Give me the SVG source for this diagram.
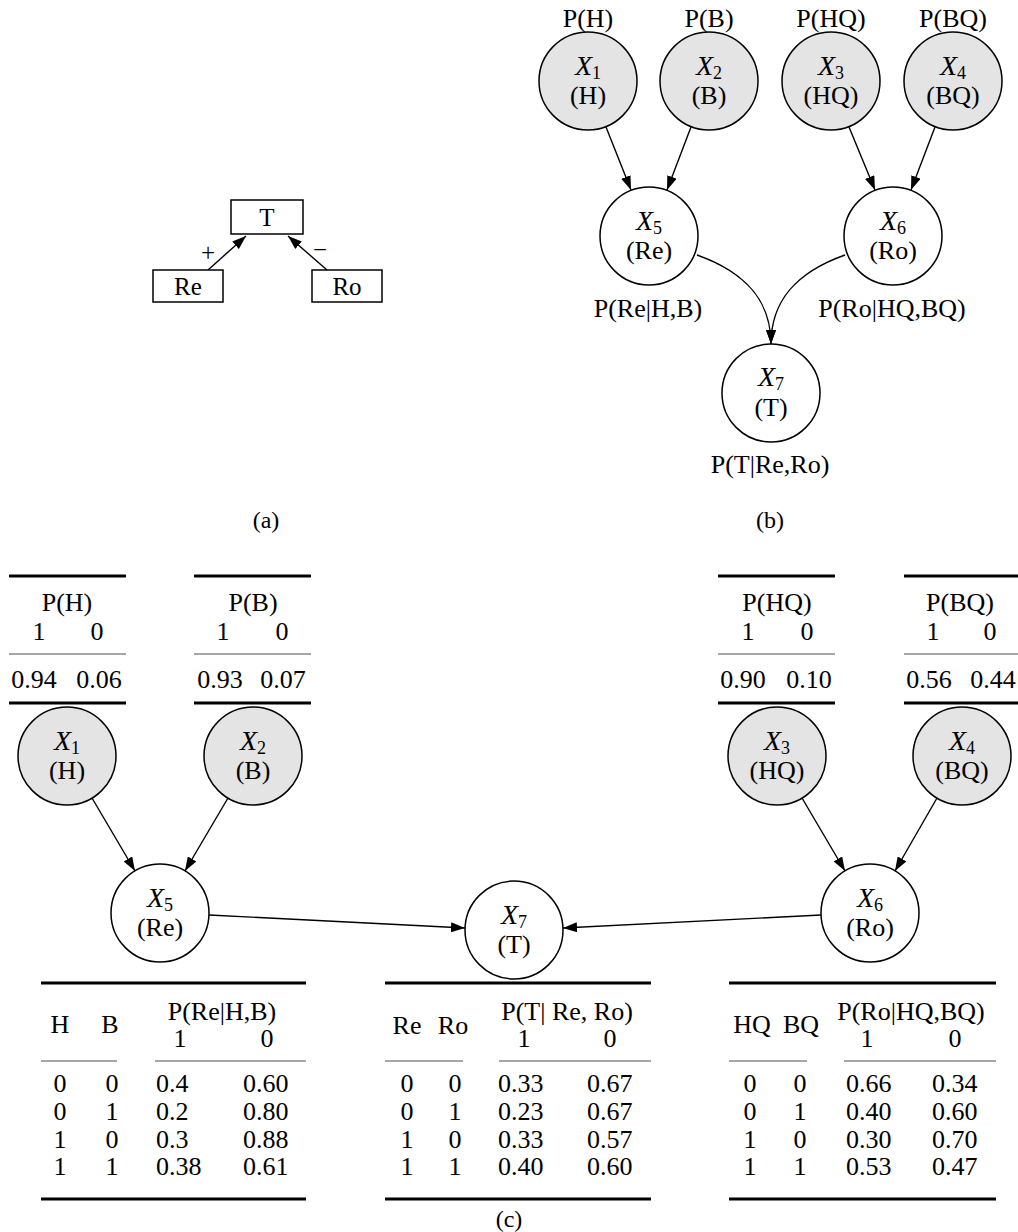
<svg xmlns="http://www.w3.org/2000/svg" width="1018" height="1232" viewBox="0 0 1018 1232">
<style>
text{font-family:"Liberation Serif","Times New Roman",serif;fill:#000}
.t{font-size:26px;text-anchor:middle}
.l{font-size:26px;text-anchor:start}
.a{font-size:25px;text-anchor:middle}
.nt{font-size:26px;text-anchor:middle}
.x{font-style:italic;font-size:28px}
.s{font-size:18px}
.cap{font-size:24px;text-anchor:middle}
.g{fill:#e4e4e4;stroke:#000;stroke-width:1.5}
.w{fill:#fff;stroke:#000;stroke-width:1.5}
.box{fill:#fff;stroke:#000;stroke-width:1.5}
.e{fill:none;stroke:#000;stroke-width:1.4}
.thick{stroke:#000;stroke-width:3}
.thin{stroke:#888;stroke-width:1.3}
</style>
<defs>
<marker id="ar" viewBox="0 0 14 10" refX="14" refY="5" markerWidth="14" markerHeight="10" markerUnits="userSpaceOnUse" orient="auto">
<path d="M0,0 L14,5 L0,10 Z" fill="#000"/>
</marker>
</defs>

<!-- (a) -->
<g id="a-T"><rect class="box" x="231" y="200" width="72" height="34"/><text class="a" x="267" y="226">T</text></g>
<g id="a-Re"><rect class="box" x="153" y="270" width="70" height="32"/><text class="a" x="188" y="295">Re</text></g>
<g id="a-Ro"><rect class="box" x="312" y="270" width="70" height="32"/><text class="a" x="347" y="295">Ro</text></g>
<g id="a-edges">
<line class="e" x1="208" y1="270" x2="246" y2="236" marker-end="url(#ar)"/>
<line class="e" x1="327" y1="270" x2="288" y2="236" marker-end="url(#ar)"/>
<text class="a" x="208" y="261">+</text>
<text class="a" x="320" y="258">−</text>
</g>
<text class="cap" x="266" y="528">(a)</text>

<!-- (b) -->
<g id="b-X1"><circle class="g" cx="588" cy="81" r="49"/><text class="nt" x="588" y="75"><tspan class="x">X</tspan><tspan class="s" dy="4">1</tspan></text><text class="nt" x="588" y="104">(H)</text><text class="t" x="588" y="27">P(H)</text></g>
<g id="b-X2"><circle class="g" cx="709" cy="81" r="49"/><text class="nt" x="709" y="75"><tspan class="x">X</tspan><tspan class="s" dy="4">2</tspan></text><text class="nt" x="709" y="104">(B)</text><text class="t" x="709" y="27">P(B)</text></g>
<g id="b-X3"><circle class="g" cx="831" cy="81" r="49"/><text class="nt" x="831" y="75"><tspan class="x">X</tspan><tspan class="s" dy="4">3</tspan></text><text class="nt" x="831" y="104">(HQ)</text><text class="t" x="831" y="27">P(HQ)</text></g>
<g id="b-X4"><circle class="g" cx="953" cy="81" r="49"/><text class="nt" x="953" y="75"><tspan class="x">X</tspan><tspan class="s" dy="4">4</tspan></text><text class="nt" x="953" y="104">(BQ)</text><text class="t" x="953" y="27">P(BQ)</text></g>
<g id="b-X5"><circle class="w" cx="649" cy="236" r="49"/><text class="nt" x="649" y="230"><tspan class="x">X</tspan><tspan class="s" dy="4">5</tspan></text><text class="nt" x="649" y="259">(Re)</text><text class="t" x="648" y="317">P(Re|H,B)</text></g>
<g id="b-X6"><circle class="w" cx="893" cy="236" r="49"/><text class="nt" x="893" y="230"><tspan class="x">X</tspan><tspan class="s" dy="4">6</tspan></text><text class="nt" x="893" y="259">(Ro)</text><text class="t" x="892" y="317">P(Ro|HQ,BQ)</text></g>
<g id="b-X7"><circle class="w" cx="771" cy="393" r="49"/><text class="nt" x="771" y="386"><tspan class="x">X</tspan><tspan class="s" dy="4">7</tspan></text><text class="nt" x="771" y="416">(T)</text><text class="t" x="770" y="473">P(T|Re,Ro)</text></g>
<g id="b-edges">
<line class="e" x1="606" y1="127" x2="631" y2="190" marker-end="url(#ar)"/>
<line class="e" x1="691" y1="127" x2="667" y2="190" marker-end="url(#ar)"/>
<line class="e" x1="849" y1="127" x2="875" y2="190" marker-end="url(#ar)"/>
<line class="e" x1="935" y1="127" x2="911" y2="190" marker-end="url(#ar)"/>
<path class="e" d="M697,255 C745,272 771,300 771,344" marker-end="url(#ar)"/>
<path class="e" d="M845,255 C797,272 771,300 771,344" marker-end="url(#ar)"/>
</g>
<text class="cap" x="770" y="528">(b)</text>

<!-- (c) prior tables -->
<g id="c-PH">
<line class="thick" x1="9" y1="576" x2="126" y2="576"/><line class="thin" x1="9" y1="654" x2="126" y2="654"/><line class="thick" x1="9" y1="703" x2="126" y2="703"/>
<text class="t" x="67" y="611">P(H)</text><text class="t" x="39" y="640">1</text><text class="t" x="97" y="640">0</text>
<text class="t" x="34" y="688">0.94</text><text class="t" x="99" y="688">0.06</text>
</g>
<g id="c-PB">
<line class="thick" x1="194" y1="576" x2="311" y2="576"/><line class="thin" x1="194" y1="654" x2="311" y2="654"/><line class="thick" x1="194" y1="703" x2="311" y2="703"/>
<text class="t" x="253" y="611">P(B)</text><text class="t" x="223" y="640">1</text><text class="t" x="282" y="640">0</text>
<text class="t" x="220" y="688">0.93</text><text class="t" x="283" y="688">0.07</text>
</g>
<g id="c-PHQ">
<line class="thick" x1="718" y1="576" x2="835" y2="576"/><line class="thin" x1="718" y1="654" x2="835" y2="654"/><line class="thick" x1="718" y1="703" x2="835" y2="703"/>
<text class="t" x="777" y="611">P(HQ)</text><text class="t" x="748" y="640">1</text><text class="t" x="807" y="640">0</text>
<text class="t" x="743" y="688">0.90</text><text class="t" x="809" y="688">0.10</text>
</g>
<g id="c-PBQ">
<line class="thick" x1="904" y1="576" x2="1018" y2="576"/><line class="thin" x1="904" y1="654" x2="1018" y2="654"/><line class="thick" x1="904" y1="703" x2="1018" y2="703"/>
<text class="t" x="960" y="611">P(BQ)</text><text class="t" x="933" y="640">1</text><text class="t" x="990" y="640">0</text>
<text class="t" x="929" y="688">0.56</text><text class="t" x="993" y="688">0.44</text>
</g>

<!-- (c) nodes -->
<g id="c-X1"><circle class="g" cx="67" cy="756" r="49"/><text class="nt" x="67" y="750"><tspan class="x">X</tspan><tspan class="s" dy="4">1</tspan></text><text class="nt" x="67" y="779">(H)</text></g>
<g id="c-X2"><circle class="g" cx="253" cy="756" r="49"/><text class="nt" x="253" y="750"><tspan class="x">X</tspan><tspan class="s" dy="4">2</tspan></text><text class="nt" x="253" y="779">(B)</text></g>
<g id="c-X3"><circle class="g" cx="777" cy="756" r="49"/><text class="nt" x="777" y="750"><tspan class="x">X</tspan><tspan class="s" dy="4">3</tspan></text><text class="nt" x="777" y="779">(HQ)</text></g>
<g id="c-X4"><circle class="g" cx="962" cy="756" r="49"/><text class="nt" x="962" y="750"><tspan class="x">X</tspan><tspan class="s" dy="4">4</tspan></text><text class="nt" x="962" y="779">(BQ)</text></g>
<g id="c-X5"><circle class="w" cx="160" cy="913" r="49"/><text class="nt" x="160" y="907"><tspan class="x">X</tspan><tspan class="s" dy="4">5</tspan></text><text class="nt" x="160" y="936">(Re)</text></g>
<g id="c-X6"><circle class="w" cx="870" cy="913" r="49"/><text class="nt" x="870" y="907"><tspan class="x">X</tspan><tspan class="s" dy="4">6</tspan></text><text class="nt" x="870" y="936">(Ro)</text></g>
<g id="c-X7"><circle class="w" cx="514" cy="930" r="49"/><text class="nt" x="514" y="924"><tspan class="x">X</tspan><tspan class="s" dy="4">7</tspan></text><text class="nt" x="514" y="953">(T)</text></g>
<g id="c-edges">
<line class="e" x1="92" y1="798" x2="135" y2="871" marker-end="url(#ar)"/>
<line class="e" x1="228" y1="798" x2="185" y2="871" marker-end="url(#ar)"/>
<line class="e" x1="802" y1="798" x2="845" y2="871" marker-end="url(#ar)"/>
<line class="e" x1="937" y1="798" x2="895" y2="871" marker-end="url(#ar)"/>
<line class="e" x1="209" y1="915" x2="465" y2="928" marker-end="url(#ar)"/>
<line class="e" x1="821" y1="915" x2="563" y2="928" marker-end="url(#ar)"/>
</g>

<!-- (c) CPTs -->
<g id="c-CPT-Re">
<line class="thick" x1="41" y1="983" x2="306" y2="983"/><line class="thin" x1="41" y1="1061" x2="117" y2="1061"/><line class="thin" x1="155" y1="1061" x2="306" y2="1061"/><line class="thick" x1="41" y1="1199" x2="306" y2="1199"/>
<text class="t" x="60" y="1033">H</text><text class="t" x="110" y="1033">B</text><text class="t" x="222" y="1020">P(Re|H,B)</text><text class="t" x="180" y="1047">1</text><text class="t" x="267" y="1047">0</text>
<text class="t" x="60" y="1092">0</text><text class="t" x="112" y="1092">0</text><text class="l" x="156" y="1092">0.4</text><text class="l" x="243" y="1092">0.60</text>
<text class="t" x="60" y="1120">0</text><text class="t" x="112" y="1120">1</text><text class="l" x="156" y="1120">0.2</text><text class="l" x="243" y="1120">0.80</text>
<text class="t" x="60" y="1148">1</text><text class="t" x="112" y="1148">0</text><text class="l" x="156" y="1148">0.3</text><text class="l" x="243" y="1148">0.88</text>
<text class="t" x="60" y="1175">1</text><text class="t" x="112" y="1175">1</text><text class="l" x="156" y="1175">0.38</text><text class="l" x="243" y="1175">0.61</text>
</g>
<g id="c-CPT-T">
<line class="thick" x1="385" y1="983" x2="651" y2="983"/><line class="thin" x1="385" y1="1061" x2="463" y2="1061"/><line class="thin" x1="499" y1="1061" x2="651" y2="1061"/><line class="thick" x1="385" y1="1199" x2="651" y2="1199"/>
<text class="t" x="407" y="1034">Re</text><text class="t" x="453" y="1034">Ro</text><text class="t" x="567" y="1020">P(T| Re, Ro)</text><text class="t" x="524" y="1047">1</text><text class="t" x="610" y="1047">0</text>
<text class="t" x="407" y="1092">0</text><text class="t" x="455" y="1092">0</text><text class="l" x="498" y="1092">0.33</text><text class="l" x="587" y="1092">0.67</text>
<text class="t" x="407" y="1120">0</text><text class="t" x="455" y="1120">1</text><text class="l" x="498" y="1120">0.23</text><text class="l" x="587" y="1120">0.67</text>
<text class="t" x="407" y="1148">1</text><text class="t" x="455" y="1148">0</text><text class="l" x="498" y="1148">0.33</text><text class="l" x="587" y="1148">0.57</text>
<text class="t" x="407" y="1175">1</text><text class="t" x="455" y="1175">1</text><text class="l" x="498" y="1175">0.40</text><text class="l" x="587" y="1175">0.60</text>
</g>
<g id="c-CPT-Ro">
<line class="thick" x1="729" y1="983" x2="996" y2="983"/><line class="thin" x1="729" y1="1061" x2="807" y2="1061"/><line class="thin" x1="844" y1="1061" x2="996" y2="1061"/><line class="thick" x1="729" y1="1199" x2="996" y2="1199"/>
<text class="t" x="752" y="1033">HQ</text><text class="t" x="801" y="1033">BQ</text><text class="t" x="911" y="1020">P(Ro|HQ,BQ)</text><text class="t" x="867" y="1047">1</text><text class="t" x="955" y="1047">0</text>
<text class="t" x="750" y="1092">0</text><text class="t" x="800" y="1092">0</text><text class="l" x="846" y="1092">0.66</text><text class="l" x="932" y="1092">0.34</text>
<text class="t" x="750" y="1120">0</text><text class="t" x="800" y="1120">1</text><text class="l" x="846" y="1120">0.40</text><text class="l" x="932" y="1120">0.60</text>
<text class="t" x="750" y="1148">1</text><text class="t" x="800" y="1148">0</text><text class="l" x="846" y="1148">0.30</text><text class="l" x="932" y="1148">0.70</text>
<text class="t" x="750" y="1175">1</text><text class="t" x="800" y="1175">1</text><text class="l" x="846" y="1175">0.53</text><text class="l" x="932" y="1175">0.47</text>
</g>
<text class="cap" x="509" y="1227">(c)</text>
</svg>
